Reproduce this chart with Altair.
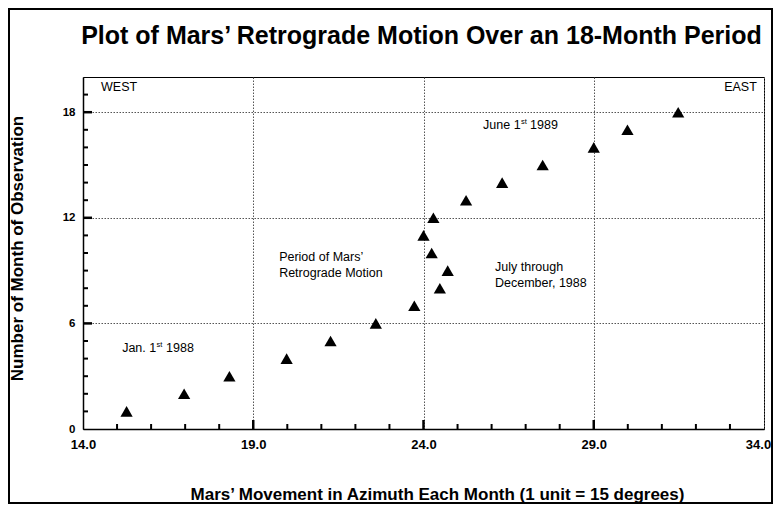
import altair as alt
import pandas as pd

TITLE = "Plot of Mars’ Retrograde Motion Over an 18-Month Period"
X_TITLE = "Mars’ Movement in Azimuth Each Month (1 unit = 15 degrees)"
Y_TITLE = "Number of Month of Observation"

# observations
months = list(range(1, 19))
azimuth = [15.28, 16.97, 18.30, 19.98, 21.27, 22.60, 23.73, 24.48, 24.71,
           24.24, 24.00, 24.29, 25.25, 26.31, 27.50, 29.00, 29.99, 31.48]

# axis ticks
x_labels = [14, 19, 24, 29, 34]
x_major_ticks = [19, 24, 29]
x_minor_ticks = [15, 16, 17, 18, 20, 21, 22, 23, 25, 26, 27, 28, 30, 31, 32, 33]
y_labels = [0, 6, 12, 18]
y_major_ticks = [6, 12, 18]
y_minor_ticks = [1, 2, 3, 4, 5, 7, 8, 9, 10, 11, 13, 14, 15, 16, 17, 19]

# annotations
ann_text = ["WEST", "EAST", "Period of Mars’", "Retrograde Motion", "July through",
            "December, 1988", "Jan. 1", "1988", "June 1", "1989"]
ann_x = [14.53, 33.79, 19.76, 19.76, 26.10, 26.10, 15.15, 16.44, 25.75, 27.13]
ann_y = [19.43, 19.43, 9.79, 8.88, 9.19, 8.31, 4.59, 4.59, 17.27, 17.27]
ann_align = ["left", "right", "left", "left", "left", "left", "left", "left", "left", "left"]
sup_text = ["st", "st"]
sup_x = [16.16, 26.86]
sup_y = [4.59, 17.27]

W, H = 681, 352
PAD = {"left": 75, "top": 69, "right": 9, "bottom": 75}
FONT = "Liberation Sans"

xs = alt.Scale(domain=[14, 34], nice=False, zero=False)
ys = alt.Scale(domain=[0, 20], nice=False, zero=False)

XAXIS = alt.Axis(
    values=x_labels, format=".1f", title=X_TITLE, grid=True,
    gridColor="#555", gridDash=[1.5, 1.5], gridWidth=1,
    ticks=False, tickSize=0, labelPadding=9,
    labelOffset={"condition": {"test": "datum.value == 34", "value": -6}, "value": 0},
    labelFont=FONT, labelFontSize=13, labelFontWeight="bold", labelColor="black",
    domainColor="black", domainWidth=1.5,
    titleFont=FONT, titleFontSize=17, titleFontWeight="bold", titleColor="black",
    titleX=354, titleY=65, titleBaseline="middle", titleAlign="center",
    labelFlush=False)
YAXIS = alt.Axis(
    values=y_labels, format="d", title=Y_TITLE, grid=True,
    gridColor="#555", gridDash=[1.5, 1.5], gridWidth=1,
    ticks=False, tickSize=0, labelPadding=8,
    labelFont=FONT, labelFontSize=11.5, labelFontWeight="bold", labelColor="black",
    domainColor="black", domainWidth=1.5,
    titleFont=FONT, titleFontSize=17, titleFontWeight="bold", titleColor="black",
    titleX=-66, titleY=171, titleAngle=270, titleBaseline="middle", titleAlign="center",
    labelFlush=False)


def X(field):
    return alt.X(field, scale=xs, axis=XAXIS)


def Y(field):
    return alt.Y(field, scale=ys, axis=YAXIS)


pts = pd.DataFrame({"azimuth": azimuth, "month": months})

points = alt.Chart(pts).mark_point(
    shape="triangle-up", filled=True, color="black", size=150, opacity=1
).encode(x=X("azimuth:Q"), y=Y("month:Q"))

xmaj = alt.Chart(pd.DataFrame({"v": x_major_ticks})).mark_rule(color="black", strokeWidth=2.5).encode(
    x=X("v:Q"), y=alt.value(H), y2=alt.value(H - 9))
xmin = alt.Chart(pd.DataFrame({"v": x_minor_ticks})).mark_rule(color="black", strokeWidth=2).encode(
    x=X("v:Q"), y=alt.value(H), y2=alt.value(H - 5))
ymaj = alt.Chart(pd.DataFrame({"v": y_major_ticks})).mark_rule(color="black", strokeWidth=2.5).encode(
    y=Y("v:Q"), x=alt.value(0), x2=alt.value(9))
ymin = alt.Chart(pd.DataFrame({"v": y_minor_ticks})).mark_rule(color="black", strokeWidth=2).encode(
    y=Y("v:Q"), x=alt.value(0), x2=alt.value(5))

ann = pd.DataFrame({"t": ann_text, "x": ann_x, "y": ann_y, "a": ann_align})
ann_left = alt.Chart(ann[ann.a == "left"]).mark_text(
    align="left", baseline="middle", font=FONT, fontSize=12.5, color="black"
).encode(x=X("x:Q"), y=Y("y:Q"), text="t:N")
ann_right = alt.Chart(ann[ann.a == "right"]).mark_text(
    align="right", baseline="middle", font=FONT, fontSize=12.5, color="black"
).encode(x=X("x:Q"), y=Y("y:Q"), text="t:N")
sup = alt.Chart(pd.DataFrame({"t": sup_text, "x": sup_x, "y": sup_y})).mark_text(
    align="left", baseline="middle", font=FONT, fontSize=7.5, color="black", dy=-3
).encode(x=X("x:Q"), y=Y("y:Q"), text="t:N")

title = alt.Chart(pd.DataFrame({"t": [TITLE]})).mark_text(
    align="center", baseline="middle", font=FONT, fontSize=25, fontWeight="bold", color="black"
).encode(x=alt.value(W / 2 - 2), y=alt.value(-41), text="t:N")

frame = alt.Chart(pd.DataFrame({"k": [0]})).mark_rect(
    filled=False, stroke="black", strokeWidth=2
).encode(x=alt.value(-PAD["left"] + 1), x2=alt.value(W + PAD["right"] - 1),
         y=alt.value(-PAD["top"] + 1), y2=alt.value(H + PAD["bottom"] - 1))

chart = alt.layer(
    points, xmaj, xmin, ymaj, ymin, ann_left, ann_right, sup, title, frame
).properties(
    width=W, height=H,
    autosize=alt.AutoSizeParams(type="none"),
    padding=PAD,
    background="white",
).configure_view(stroke="black", strokeWidth=1)

chart.save("out.html", embed_options={"renderer": "svg", "actions": False})
